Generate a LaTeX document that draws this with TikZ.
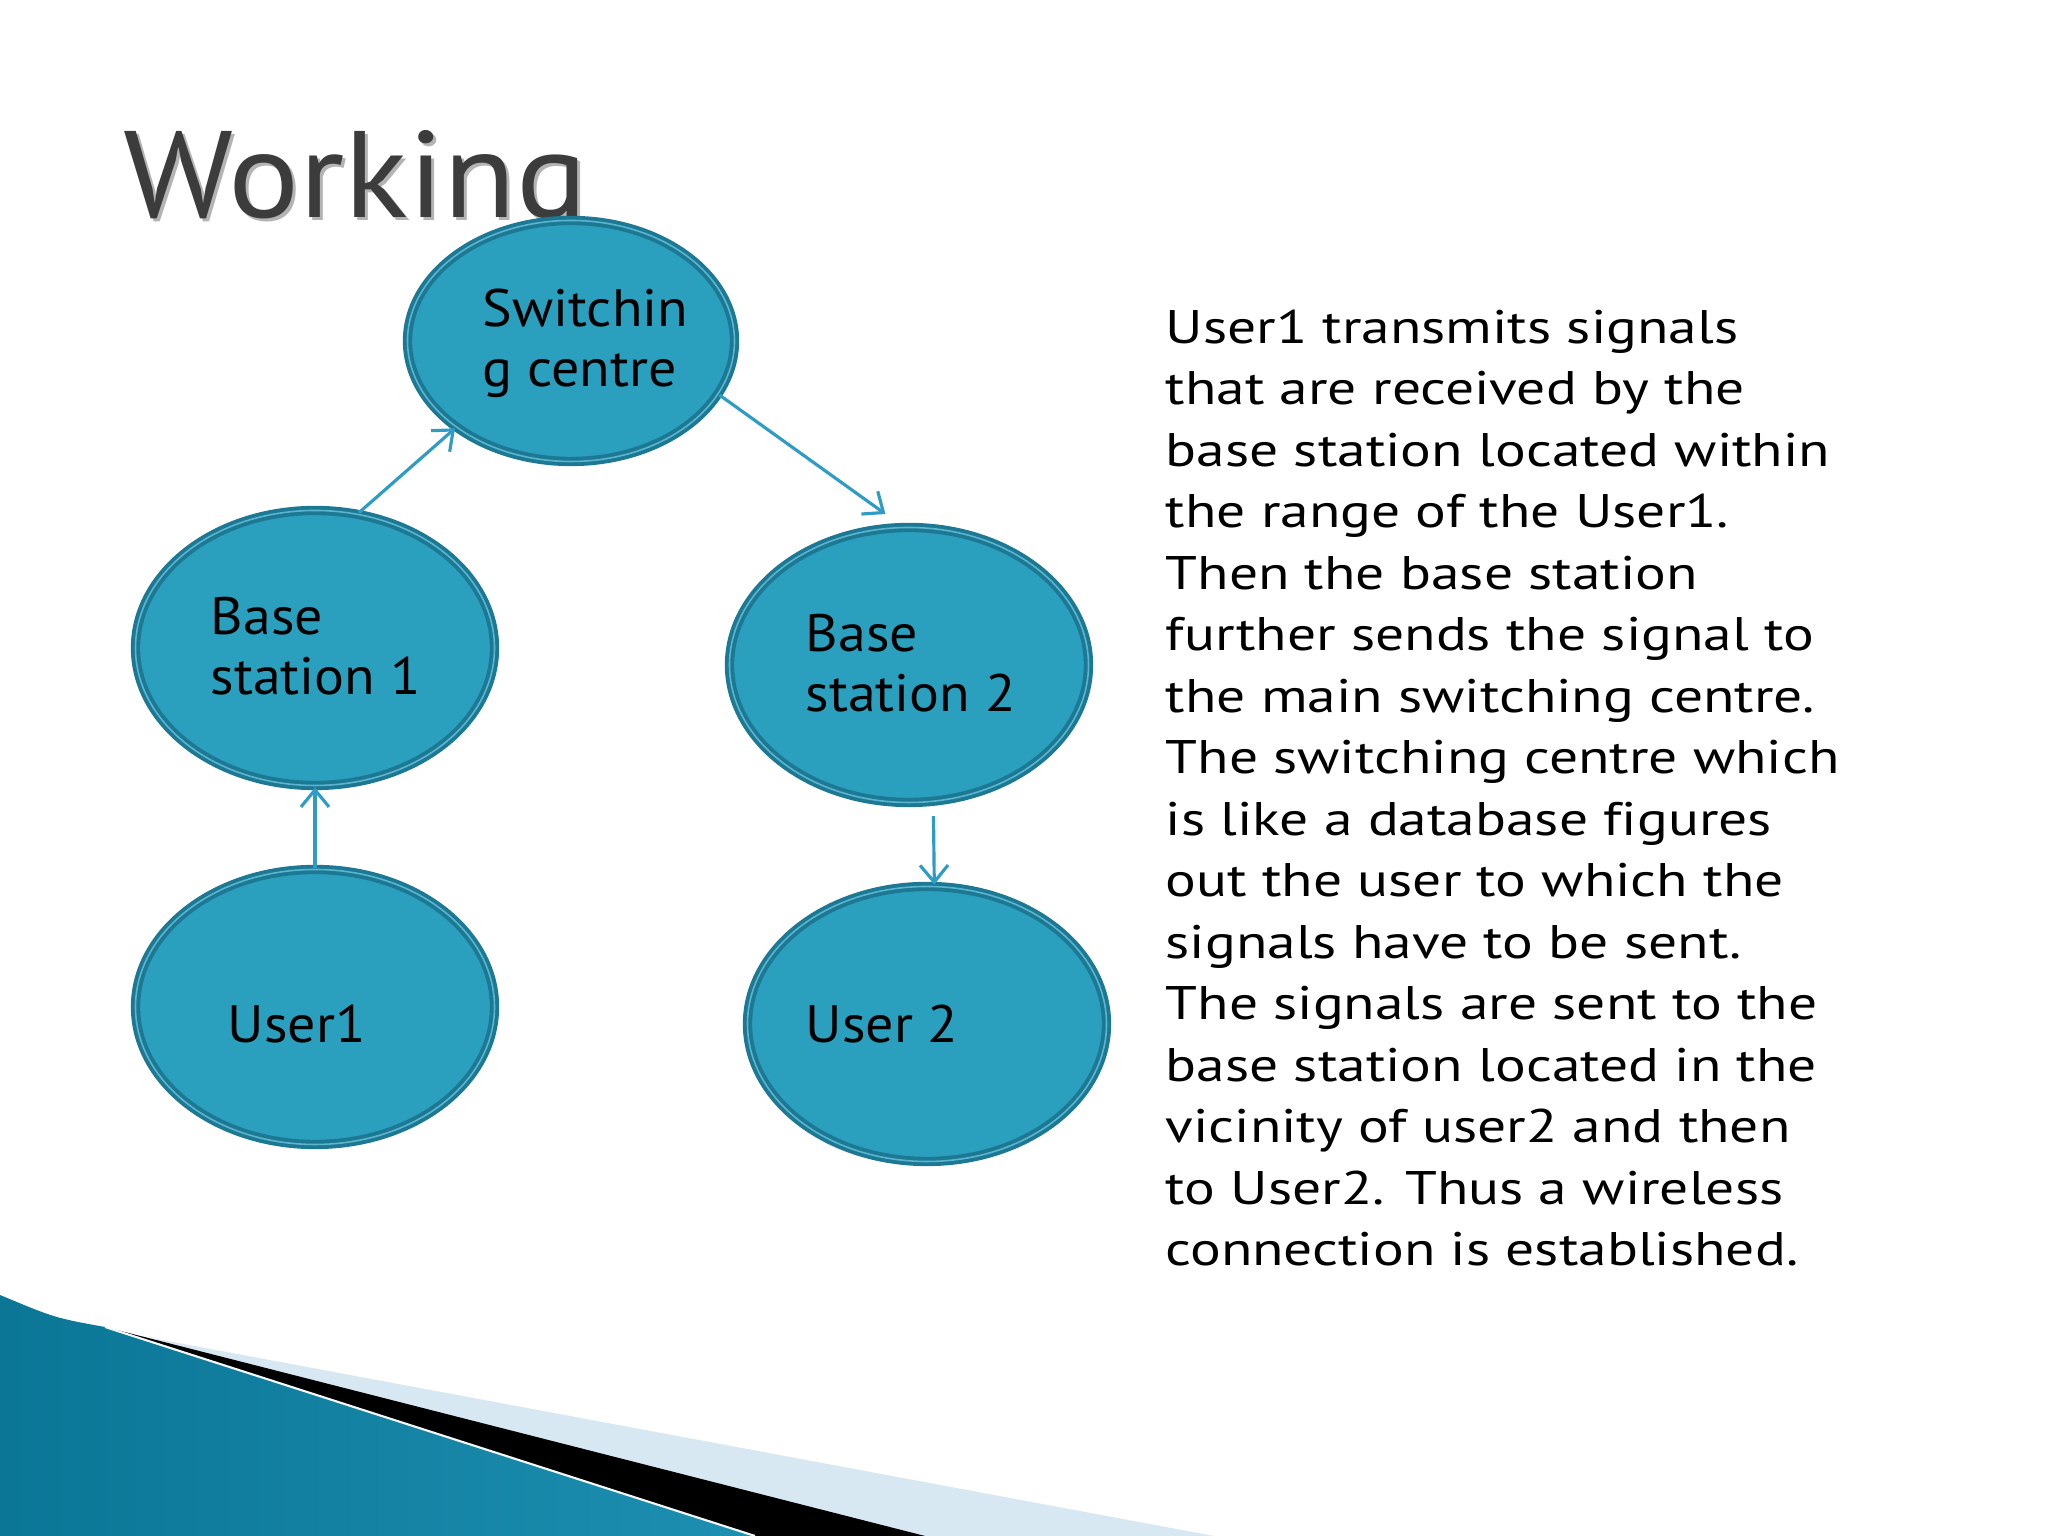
\documentclass[tikz,border=0pt]{standalone}
\usepackage{fontspec}
\setmainfont{PT Sans}
\newfontfamily\headfont[FakeStretch=1.08]{PT Sans}
\newfontfamily\cellfont[FakeStretch=1.06]{PT Sans}
\newfontfamily\descfont[FakeStretch=1.22,Ligatures=NoCommon]{PT Sans}
\usepackage{tikz}
\usetikzlibrary{shapes.geometric,arrows.meta,calc}
\definecolor{cellblue}{HTML}{2BA0BE}
\definecolor{ringblue}{HTML}{1D7893}
\definecolor{ringlight}{HTML}{5AB6CF}
\definecolor{linkblue}{HTML}{2E9CC4}
\definecolor{titlegray}{HTML}{3C3C3C}
\definecolor{shadowgray}{HTML}{B4B4B4}
\definecolor{tealdark}{HTML}{0B7696}
\definecolor{teallight}{HTML}{5ABCDB}
\definecolor{tealmid}{HTML}{1D8FB1}
\definecolor{barblue}{HTML}{D8E8F2}

\begin{document}
\begin{tikzpicture}[
    cell/.style={ellipse, draw=ringblue, line width=1.1pt, double=ringlight, double distance=0.45pt,
      fill=cellblue, inner sep=0pt, minimum width=3.59cm, minimum height=2.75cm},
    lbl/.style={inner sep=0pt, align=left, font=\cellfont\fontsize{15}{17}\selectfont},
    link/.style={linkblue, line width=0.9pt, -{Straight Barb[length=1.7mm,width=2.8mm]}}
  ]
        \useasboundingbox (0,0) rectangle (20.48,15.36);
        \fill[white] (0,0) rectangle (20.48,15.36);
        % corner decoration
        \fill[barblue] (1.30,2.02) -- (12.14,0) -- (0,0) -- cycle;
        \fill[black] (1.05,2.09) -- (9.25,0) -- (0,0) -- cycle;
        \shade[left color=tealdark, middle color=teallight, right color=tealmid]
          (0,2.41) .. controls (0.55,2.18) .. (1.05,2.09) -- (7.55,0) -- (0,0) -- cycle;
        \draw[white!70!barblue, line width=0.6pt] (1.05,2.09) -- (7.55,0);
        % heading
        \node[anchor=base west, inner sep=0pt, text=shadowgray, font=\headfont\fontsize{35}{40}\selectfont]
          (headshadow) at (1.26,13.15) {Working};
        \node[anchor=base west, inner sep=0pt, text=titlegray, font=\headfont\fontsize{35}{40}\selectfont]
          (heading) at (1.23,13.18) {Working};
        % cells
        \node[cell, minimum width=3.27cm, minimum height=2.41cm] (sw) at (5.71,11.95) {};
        \node[cell] (bs1) at (3.15,8.88) {};
        \node[cell] (bs2) at (9.09,8.71) {};
        \node[cell] (u1) at (3.15,5.29) {};
        \node[cell] (u2) at (9.27,5.12) {};
        \node[lbl, anchor=west] (swtext) at ($(sw.center)+(-0.89,-0.02)$) {Switchin\\g centre};
        \node[lbl, anchor=west] (bs1text) at ($(bs1.center)+(-1.05,0.02)$) {Base\\station 1};
        \node[lbl, anchor=west] (bs2text) at ($(bs2.center)+(-1.04,0.02)$) {Base\\station 2};
        \node[lbl, anchor=base west] (u1text) at ($(u1.center)+(-0.88,-0.36)$) {User1};
        \node[lbl, anchor=base west] (u2text) at ($(u2.center)+(-1.22,-0.19)$) {User 2};
        % links
        \draw[link] (u1.north) -- (bs1.south);
        \draw[link] (bs1.72) -- (sw.217);
        \draw[link, shorten >=0.2cm] (sw.-20) -- (bs2.93);
        \draw[link, shorten <=0.13cm] (bs2.-80) -- (u2.87);
        % description
        \node[anchor=north west, inner sep=0pt, align=left, font=\descfont\fontsize{13.4}{17.5}\selectfont]
          (desc) at (11.65,12.27) {User1 transmits signals\\
          that are received by the\\
          base station located within\\
          the range of the User1.\\
          Then the base station\\
          further sends the signal to\\
          the main switching centre.\\
          The switching centre which\\
          is like a database figures\\
          out the user to which the\\
          signals have to be sent.\\
          The signals are sent to the\\
          base station located in the\\
          vicinity of user2 and then\\
          to User2. Thus a wireless\\
          connection is established.};
      \end{tikzpicture}
\end{document}
